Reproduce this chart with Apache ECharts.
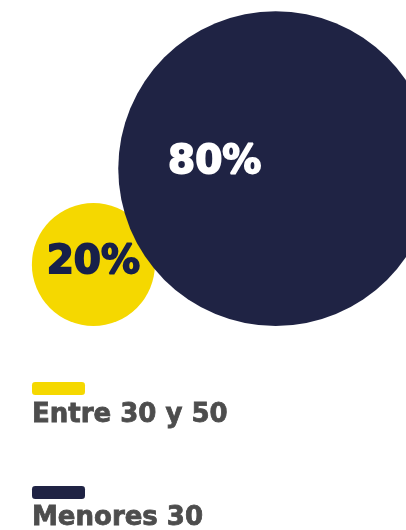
<!DOCTYPE html>
<html><head><meta charset="utf-8">
<script src="https://cdn.jsdelivr.net/npm/echarts@6/dist/echarts.min.js"></script>
<style>html,body{margin:0;padding:0;background:#fff}#c{width:406px;height:530px}</style>
</head><body><div id="c"></div>
<script>
// Data
var categories = ['Entre 30 y 50', 'Menores 30'];
var percents = [20, 80];
var bubbleX = [2.3, 6.79];
var bubbleY = [2.22, 5.04];

var colors = ['#f5d800', '#1f2344'];
var labelColors = ['#17204a', '#ffffff'];
var labelOffsets = [[0, -2], [-61, -6]];

function diameter(v) { return 123 * Math.pow(v / 20, 0.678); }

var series = categories.map(function (name, i) {
  return {
    name: name,
    type: 'scatter',
    z: 2 + i,
    symbol: 'circle',
    symbolSize: function (val) { return diameter(val[2]); },
    itemStyle: { color: colors[i], opacity: 1 },
    label: {
      show: true, position: 'inside', offset: labelOffsets[i],
      formatter: function (p) { return p.value[2] + '%'; },
      color: labelColors[i], fontFamily: 'DejaVu Sans', fontWeight: 'bold', fontSize: 39,
      textBorderColor: labelColors[i], textBorderWidth: 1.8
    },
    emphasis: { disabled: true },
    data: [[bubbleX[i], bubbleY[i], percents[i]]]
  };
});

var legends = [];
categories.forEach(function (name, i) {
  legends.push({
    orient: 'vertical', left: 32, top: 382 + i * 104, padding: 0,
    itemWidth: 53, itemHeight: 13, icon: 'roundRect',
    formatter: function () { return ''; },
    selectedMode: false, data: [name]
  });
  legends.push({
    orient: 'vertical', left: 27, top: 402 + i * 103, padding: 0,
    itemWidth: 0, itemHeight: 26, icon: 'none',
    selectedMode: false, data: [name],
    textStyle: {
      color: '#4d4d4d', fontFamily: 'DejaVu Sans', fontWeight: 'bold', fontSize: 26,
      textBorderColor: '#4d4d4d', textBorderWidth: 0.8, padding: 0
    }
  });
});

var chart = echarts.init(document.getElementById('c'), null, { renderer: 'canvas' });
chart.setOption({
  animation: false,
  grid: { left: 0, top: 0, width: 406, height: 340 },
  xAxis: { type: 'value', min: 0, max: 10, show: false },
  yAxis: { type: 'value', min: 0, max: 10, show: false },
  legend: legends,
  series: series
});
</script></body></html>
